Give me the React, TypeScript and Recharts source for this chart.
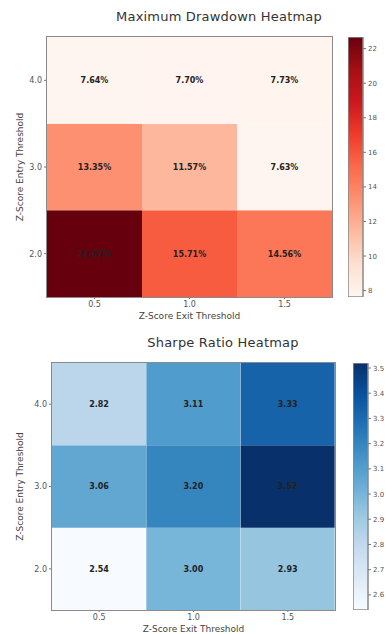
import * as React from 'react';
import { BarChart, Bar, XAxis, YAxis, Cell, LabelList } from 'recharts';

const exitThresholds = ['0.5', '1.0', '1.5'];
const entryThresholds = ['2.0', '3.0', '4.0'];

// rows follow entryThresholds (bottom to top), columns follow exitThresholds
const drawdownEntry20 = [22.67, 15.71, 14.56];
const drawdownEntry30 = [13.35, 11.57, 7.63];
const drawdownEntry40 = [7.64, 7.70, 7.73];
const drawdownTicks = [8, 10, 12, 14, 16, 18, 20, 22];

const sharpeEntry20 = [2.54, 3.00, 2.93];
const sharpeEntry30 = [3.06, 3.20, 3.52];
const sharpeEntry40 = [2.82, 3.11, 3.33];
const sharpeTicks = [2.6, 2.7, 2.8, 2.9, 3.0, 3.1, 3.2, 3.3, 3.4, 3.5];

const REDS = ['#fff5f0', '#fee0d2', '#fcbba1', '#fc9272', '#fb6a4a', '#ef3b2c', '#cb181d', '#a50f15', '#67000d'];
const BLUES = ['#f7fbff', '#deebf7', '#c6dbef', '#9ecae1', '#6baed6', '#4292c6', '#2171b5', '#08519c', '#08306b'];

const FONT = 'DejaVu Sans, sans-serif';
const FRAME = '#8a8a8a';

function hexToRgb(h: string) {
  return [1, 3, 5].map(i => parseInt(h.slice(i, i + 2), 16));
}

function cmap(stops: string[], t: number) {
  const c = Math.max(0, Math.min(1, t)) * (stops.length - 1);
  const i = Math.min(stops.length - 2, Math.floor(c));
  const f = c - i;
  const a = hexToRgb(stops[i]);
  const b = hexToRgb(stops[i + 1]);
  const rgb = a.map((v, k) => Math.round(v + (b[k] - v) * f));
  return `rgb(${rgb.join(',')})`;
}

interface HeatmapProps {
  id: string;
  title: string;
  rows: number[][];
  fmt: (v: number) => string;
  stops: string[];
  ticks: number[];
  tickFmt: (v: number) => string;
  top: number;
  plotLeft: number;
  plotRight: number;
  plotHeight: number;
  titleX: number;
  barLeft: number;
}

function Heatmap({ id, title, rows, fmt, stops, ticks, tickFmt, top, plotLeft, plotRight, plotHeight, titleX, barLeft }: HeatmapProps) {
  const all = rows.flat();
  const min = Math.min(...all);
  const max = Math.max(...all);
  const norm = (v: number) => (v - min) / (max - min);

  const data = exitThresholds.map((exit, i) => {
    const d: Record<string, string | number> = { exit };
    rows.forEach((r, k) => {
      d[`r${k}`] = 1;
      d[`l${k}`] = fmt(r[i]);
    });
    return d;
  });

  const tickStyle = { fill: '#555', fontSize: 8, fontFamily: FONT };
  const marginTop = 37;
  const xAxisH = 20;
  const marginBottom = 4;
  const chartH = marginTop + plotHeight + xAxisH + marginBottom;

  return (
    <div style={{ position: 'absolute', left: 0, top, width: 386, height: chartH }}>
      <div style={{
        position: 'absolute', top: 9, left: titleX - 150, width: 300, textAlign: 'center',
        fontFamily: FONT, fontSize: 13, lineHeight: '15px', color: '#333', letterSpacing: 0.2,
      }}>
        {title}
      </div>
      <div style={{ position: 'absolute', left: 0, top: 0 }}>
        <BarChart
          width={plotRight + 8}
          height={chartH}
          data={data}
          margin={{ top: marginTop, right: 8, bottom: marginBottom, left: 0 }}
          barCategoryGap={0}
          barGap={0}
        >
          <XAxis
            dataKey="exit"
            tick={tickStyle}
            tickLine={{ stroke: '#777' }}
            tickSize={2}
            axisLine={false}
            height={xAxisH}
            label={{ value: 'Z-Score Exit Threshold', position: 'insideBottom', offset: -2, style: { fill: '#444', fontSize: 9, fontFamily: FONT } }}
          />
          <YAxis
            type="number"
            domain={[0, 3]}
            ticks={[0.5, 1.5, 2.5]}
            tickFormatter={(v: number) => entryThresholds[Math.floor(v)]}
            tick={tickStyle}
            tickLine={{ stroke: '#777' }}
            tickSize={3}
            axisLine={false}
            width={plotLeft}
            label={{ value: 'Z-Score Entry Threshold', angle: -90, position: 'insideLeft', offset: 20, style: { fill: '#444', fontSize: 9, fontFamily: FONT, textAnchor: 'middle' } }}
          />
          {rows.map((r, k) => (
            <Bar key={k} dataKey={`r${k}`} stackId="s" isAnimationActive={false}>
              {r.map((v, i) => (
                <Cell key={i} fill={cmap(stops, norm(v))} />
              ))}
              <LabelList dataKey={`l${k}`} position="center" style={{ fill: '#222', fontSize: 8, fontWeight: 'bold', fontFamily: FONT }} />
            </Bar>
          ))}
        </BarChart>
      </div>
      {/* axes frame */}
      <div style={{
        position: 'absolute', left: plotLeft - 1, top: marginTop - 1, width: plotRight - plotLeft, height: plotHeight,
        border: `1.5px solid ${FRAME}`, pointerEvents: 'none',
      }} />
      <div style={{ position: 'absolute', left: barLeft, top: marginTop }}>
        <BarChart
          width={15 + 26}
          height={plotHeight}
          data={[{ k: 'c', range: [min, max] }]}
          margin={{ top: 0, right: 0, bottom: 0, left: 0 }}
          barCategoryGap={0}
        >
          <defs>
            <linearGradient id={`${id}Grad`} x1="0" y1="1" x2="0" y2="0">
              {stops.map((c, i) => (
                <stop key={i} offset={`${(i / (stops.length - 1)) * 100}%`} stopColor={c} />
              ))}
            </linearGradient>
          </defs>
          <XAxis dataKey="k" hide />
          <YAxis
            type="number"
            orientation="right"
            domain={[min, max]}
            ticks={ticks}
            tickFormatter={tickFmt}
            tick={{ fill: '#555', fontSize: 7, fontFamily: FONT }}
            tickLine={{ stroke: '#777' }}
            tickSize={3}
            axisLine={false}
            width={26}
            allowDataOverflow
          />
          <Bar dataKey="range" fill={`url(#${id}Grad)`} stroke={FRAME} strokeWidth={1.5} isAnimationActive={false} />
        </BarChart>
      </div>
    </div>
  );
}

export default function App() {
  return (
    <div style={{ position: 'relative', width: 386, height: 634, background: '#fff', overflow: 'hidden' }}>
      <style>{'body{margin:0}'}</style>
      <Heatmap
        id="dd"
        title="Maximum Drawdown Heatmap"
        rows={[drawdownEntry20, drawdownEntry30, drawdownEntry40]}
        fmt={v => `${v.toFixed(2)}%`}
        stops={REDS}
        ticks={drawdownTicks}
        tickFmt={v => String(v)}
        top={0}
        plotLeft={47}
        plotRight={332}
        plotHeight={260}
        titleX={219}
        barLeft={348}
      />
      <Heatmap
        id="sr"
        title="Sharpe Ratio Heatmap"
        rows={[sharpeEntry20, sharpeEntry30, sharpeEntry40]}
        fmt={v => v.toFixed(2)}
        stops={BLUES}
        ticks={sharpeTicks}
        tickFmt={v => v.toFixed(1)}
        top={326}
        plotLeft={52}
        plotRight={335}
        plotHeight={247}
        titleX={223}
        barLeft={353}
      />
    </div>
  );
}
